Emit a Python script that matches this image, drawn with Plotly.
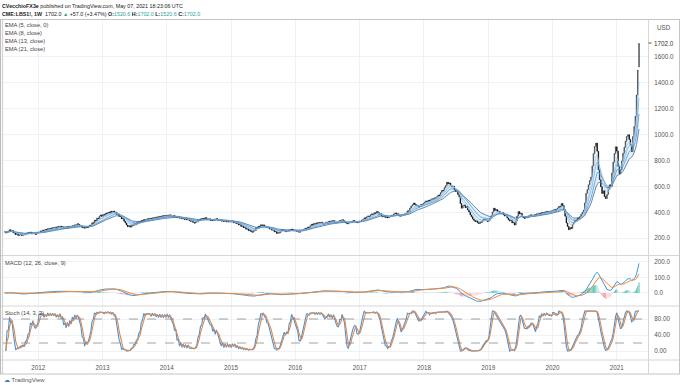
import pandas as pd
import numpy as np
import plotly.graph_objects as go

# ---------------- data (weekly closes, CME:LBS1!) ----------------
closes_2011 = [250, 241, 256, 249, 266, 255, 259, 243, 240, 229, 236, 222, 226, 233, 221, 230, 227, 239, 232, 244,
               240, 247, 233, 242, 236, 229, 247, 241]
closes_2012 = [247, 256, 250, 264, 255, 268, 262, 274, 265, 279, 271, 282, 274, 287, 276, 290, 282, 294, 280, 289,
               277, 288, 279, 291, 282, 293, 286, 297, 291, 304, 296, 312, 306, 292, 297, 281, 289, 278, 291, 282,
               287, 301, 296, 320, 314, 339, 333, 356, 350, 371, 380, 368]
closes_2013 = [384, 376, 393, 387, 401, 392, 408, 398, 410, 396, 401, 383, 388, 368, 372, 349, 355, 331, 318, 302,
               289, 297, 286, 303, 296, 312, 303, 320, 311, 330, 322, 337, 328, 344, 334, 343, 351, 339, 355, 346,
               358, 349, 362, 352, 366, 357, 370, 361, 374, 365, 376, 368]
closes_2014 = [378, 369, 381, 372, 365, 376, 363, 370, 359, 367, 355, 362, 350, 358, 345, 353, 341, 349, 336, 331,
               338, 322, 317, 330, 325, 343, 336, 350, 342, 356, 347, 359, 350, 344, 351, 338, 343, 337, 348, 341,
               352, 343, 337, 345, 332, 339, 330, 336, 327, 334, 325, 331]
closes_2015 = [326, 333, 320, 326, 313, 318, 302, 308, 291, 296, 282, 287, 270, 274, 259, 265, 252, 247, 262, 258,
               281, 276, 294, 289, 304, 297, 303, 288, 293, 280, 285, 271, 276, 262, 266, 250, 254, 237, 246, 241,
               256, 266, 257, 263, 251, 260, 254, 266, 259, 271, 262, 257]
closes_2016 = [262, 254, 258, 246, 256, 262, 258, 270, 277, 271, 286, 280, 296, 308, 300, 314, 306, 319, 311, 322,
               314, 324, 316, 309, 317, 324, 318, 330, 322, 335, 327, 336, 326, 321, 330, 325, 337, 330, 343, 336,
               327, 321, 311, 317, 326, 320, 331, 337, 326, 330, 319, 324, 333]
closes_2017 = [329, 341, 346, 358, 352, 366, 372, 366, 381, 388, 382, 397, 391, 407, 398, 384, 390, 371, 366, 373,
               360, 369, 357, 364, 368, 378, 373, 388, 395, 383, 389, 376, 370, 379, 385, 378, 390, 394, 412, 405,
               432, 448, 458, 472, 460, 449, 454, 441, 450, 462, 457, 470]
closes_2018 = [478, 488, 481, 494, 486, 497, 505, 498, 512, 507, 522, 534, 528, 552, 570, 564, 590, 606, 632, 618,
               626, 608, 596, 602, 574, 560, 566, 538, 520, 468, 432, 450, 457, 436, 445, 418, 402, 380, 366, 349,
               338, 329, 334, 320, 314, 328, 324, 340, 347, 337, 341, 329]
closes_2019 = [338, 356, 371, 402, 432, 414, 421, 404, 410, 396, 392, 399, 381, 372, 378, 356, 343, 334, 341, 318,
               322, 302, 334, 372, 406, 388, 393, 368, 361, 354, 366, 359, 373, 366, 381, 377, 369, 382, 376, 389,
               383, 394, 386, 399, 392, 403, 397, 408, 405, 398, 411, 407]
closes_2020 = [414, 421, 410, 426, 433, 446, 441, 468, 452, 422, 370, 318, 291, 266, 284, 276, 307, 323, 340, 334,
               358, 351, 368, 386, 399, 418, 472, 547, 575, 612, 645, 672, 758, 852, 908, 934, 871, 728, 652, 598,
               545, 566, 521, 506, 538, 574, 612, 598, 703, 786, 853, 905]
closes_2021 = [872, 756, 698, 728, 796, 855, 902, 948, 985, 998, 962, 921, 868, 984, 1062, 1140, 1305, 1497, 1702]

last_bar = {"open": 1520.6, "high": 1702.0, "low": 1520.6, "close": 1702.0}
first_week = "2011-06-24"

price_ticks = [200, 400, 600, 800, 1000, 1200, 1400, 1600]
macd_ticks = [0, 100, 200]
stoch_ticks = [0, 40, 80]

# ---------------- series ----------------
close = (closes_2011 + closes_2012 + closes_2013 + closes_2014 + closes_2015 + closes_2016 +
         closes_2017 + closes_2018 + closes_2019 + closes_2020 + closes_2021)
dates = pd.date_range(first_week, periods=len(close), freq="W-FRI")
s = pd.Series(close, index=dates, dtype=float)
opens = [close[0]] + close[:-1]
opens[-1] = last_bar["open"]
highs = [max(o, c) for o, c in zip(opens, close)]
lows = [min(o, c) for o, c in zip(opens, close)]
highs[-1] = last_bar["high"]
lows[-1] = last_bar["low"]

ema = {n: s.ewm(span=n, adjust=False).mean() for n in (5, 8, 13, 21)}
macd = s.ewm(span=12, adjust=False).mean() - s.ewm(span=26, adjust=False).mean()
signal = macd.ewm(span=9, adjust=False).mean()
hist = macd - signal
hprev = hist.shift(1).fillna(0)
hcol = []
for h, p in zip(hist, hprev):
    if h >= 0:
        hcol.append("#6cc7ba" if h >= p else "#c2e8e2")
    else:
        hcol.append("#ffd3d8" if h >= p else "#f4a3aa")

hs = pd.Series(highs, index=dates)
ls = pd.Series(lows, index=dates)
hh = hs.rolling(14, min_periods=1).max()
ll = ls.rolling(14, min_periods=1).min()
raw = 100 * (s - ll) / (hh - ll).replace(0, np.nan)
k = raw.rolling(3, min_periods=1).mean()
d = k.rolling(3, min_periods=1).mean()

# ---------------- helpers ----------------
W, H = 680, 385
def px(x): return x / W
def py(y): return 1 - y / H

FONT = "Liberation Sans, Arial, sans-serif"
GRID = "#eef1f6"
SEP = "#d6d6d6"

x0, x1 = px(3), px(648)
dom_price = [py(255), py(20)]
dom_macd = [py(306), py(255)]
dom_stoch = [py(360), py(306)]

fig = go.Figure()

# EMAs with fill
fig.add_trace(go.Scatter(x=dates, y=ema[21], mode="lines", line=dict(color="#3f6fa5", width=0.8),
                         xaxis="x", yaxis="y", hoverinfo="skip"))
fig.add_trace(go.Scatter(x=dates, y=ema[5], mode="lines", line=dict(color="#9ccdf2", width=0.8),
                         fill="tonexty", fillcolor="rgba(120,185,235,0.2)",
                         xaxis="x", yaxis="y", hoverinfo="skip"))
fig.add_trace(go.Scatter(x=dates, y=ema[8], mode="lines", line=dict(color="#78b6e6", width=0.8),
                         xaxis="x", yaxis="y", hoverinfo="skip"))
fig.add_trace(go.Scatter(x=dates, y=ema[13], mode="lines", line=dict(color="#5a93cc", width=0.8),
                         xaxis="x", yaxis="y", hoverinfo="skip"))

fig.add_trace(go.Candlestick(x=dates, open=opens, high=highs, low=lows, close=close,
                             increasing=dict(line=dict(color="#333333", width=0.6), fillcolor="#8a8a8a"),
                             decreasing=dict(line=dict(color="#000000", width=0.6), fillcolor="#000000"),
                             whiskerwidth=0, xaxis="x", yaxis="y", hoverinfo="skip"))

# MACD
fig.add_trace(go.Bar(x=dates, y=hist, marker=dict(color=hcol, line=dict(width=0)),
                     xaxis="x2", yaxis="y2", hoverinfo="skip"))
fig.add_trace(go.Scatter(x=dates, y=macd, mode="lines", line=dict(color="#3d97e0", width=1),
                         xaxis="x2", yaxis="y2", hoverinfo="skip"))
fig.add_trace(go.Scatter(x=dates, y=signal, mode="lines", line=dict(color="#ef8a3a", width=1),
                         xaxis="x2", yaxis="y2", hoverinfo="skip"))

# Stoch
fig.add_trace(go.Scatter(x=dates, y=k, mode="lines", line=dict(color="#4f8fcf", width=1.1),
                         xaxis="x3", yaxis="y3", hoverinfo="skip"))
fig.add_trace(go.Scatter(x=dates, y=d, mode="lines", line=dict(color="#dc8a50", width=1.1),
                         xaxis="x3", yaxis="y3", hoverinfo="skip"))

xr = ["2011-06-15", "2021-06-27"]
xcommon = dict(range=xr, domain=[x0, x1], showgrid=True, gridcolor=GRID, gridwidth=1,
               dtick="M12", tick0="2012-01-01", zeroline=False, showline=False, ticks="")
tickfont = dict(family=FONT, size=6.3, color="#555")
ycommon = dict(side="right", tickfont=tickfont, showgrid=True, gridcolor=GRID, zeroline=False,
               ticks="outside", ticklen=4, tickcolor="rgba(0,0,0,0)", ticklabelstandoff=0)

fig.update_layout(
    width=W, height=H, margin=dict(l=0, r=0, t=0, b=0),
    paper_bgcolor="white", plot_bgcolor="white", showlegend=False,
    bargap=0.1,
    xaxis=dict(**xcommon, anchor="y", showticklabels=False, rangeslider=dict(visible=False)),
    xaxis2=dict(**xcommon, anchor="y2", matches="x", showticklabels=False),
    xaxis3=dict(**xcommon, anchor="y3", matches="x", showticklabels=True, tickformat="%Y",
                tickfont=tickfont, ticklabelstandoff=3),
    yaxis=dict(**ycommon, domain=dom_price, range=[71, 1883], anchor="x",
               tickvals=price_ticks, ticktext=[f"{v:.1f}" for v in price_ticks]),
    yaxis2=dict(**ycommon, domain=dom_macd, range=[-84, 245], anchor="x2",
                tickvals=macd_ticks, ticktext=[f"{v:.1f}" for v in macd_ticks]),
    yaxis3=dict(**ycommon, domain=dom_stoch, range=[-22.5, 112.5], anchor="x3",
                tickvals=stoch_ticks, ticktext=[f"{v:.2f}" for v in stoch_ticks]),
)

shapes = []
def hline(y, xa=0, xb=680, color=SEP, width=1):
    shapes.append(dict(type="line", xref="paper", yref="paper", x0=px(xa), x1=px(xb),
                       y0=py(y), y1=py(y), line=dict(color=color, width=width)))
def vline(x, ya, yb, color=SEP, width=1):
    shapes.append(dict(type="line", xref="paper", yref="paper", x0=px(x), x1=px(x),
                       y0=py(ya), y1=py(yb), line=dict(color=color, width=width)))

hline(19.5, color="#c4c4c4")
hline(255.5)
hline(306)
hline(360)
hline(374, color="#c4c4c4")
vline(0.6, 19.5, 374, color="#b5b5b5")
vline(2.6, 19.5, 374, color="#cfcfcf")
vline(648.5, 19.5, 374)
vline(679.5, 19.5, 374, color="#c4c4c4")
hline(43, 648.5, 651.5, color="#555")
# stoch bands
for lvl in (80, 20):
    shapes.append(dict(type="line", xref="paper", yref="y3", x0=x0, x1=x1, y0=lvl, y1=lvl,
                       line=dict(color="#8c8c8c", width=0.8, dash="dash")))
fig.update_layout(shapes=shapes)

ann = []
def text(x, y, t, size=5.8, color="#333", xanchor="left"):
    ann.append(dict(x=px(x), y=py(y), xref="paper", yref="paper", text=t, showarrow=False,
                    xanchor=xanchor, yanchor="middle", borderpad=0,
                    font=dict(family=FONT, size=size, color=color)))

teal = "#26a69a"
text(1, 6, "<b>CVecchioFX3e</b> published on TradingView.com, May 07, 2021 18:23:06 UTC", size=5.35, color="#222")
text(1, 14, "<b>CME:LBS1!, 1W</b>  1702.0 <span style='color:%s'>▲</span> +57.0 (+3.47%%) "
            "<b>O:</b><span style='color:%s'>1520.6</span> <b>H:</b><span style='color:%s'>1702.0</span> "
            "<b>L:</b><span style='color:%s'>1520.6</span> <b>C:</b><span style='color:%s'>1702.0</span>"
            % (teal, teal, teal, teal, teal), size=5.35, color="#222")
text(4, 25, "EMA (5, close, 0)", size=5.7, color="#444")
text(4, 33, "EMA (8, close)", size=5.7, color="#444")
text(4, 41, "EMA (13, close)", size=5.7, color="#444")
text(4, 49, "EMA (21, close)", size=5.7, color="#444")
text(4, 263, "MACD (12, 26, close, 9)", size=5.7, color="#444")
text(4, 313, "Stoch (14, 3, 3)", size=5.7, color="#444")
text(656, 27, "USD", size=6.3, color="#555")
text(653, 43, "1702.0", size=6.3, color="#333")
text(3, 379.5, "<span style='color:#2a7fd4'>☁</span> TradingView", size=6, color="#555")
fig.update_layout(annotations=ann)

fig.write_html("out.html", config={"displayModeBar": False, "staticPlot": True},
               post_script="document.body.style.margin='0';document.body.style.overflow='hidden';")
